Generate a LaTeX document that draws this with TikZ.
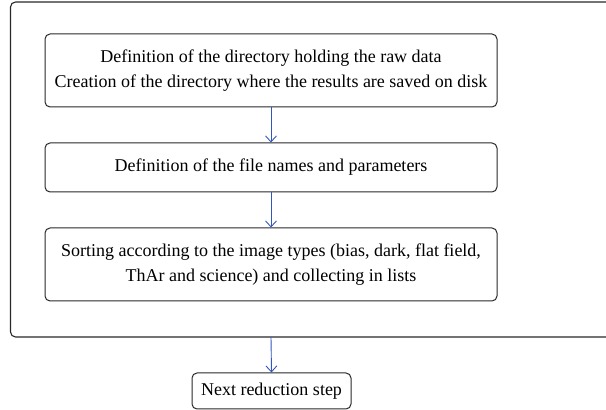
\documentclass[tikz,border=0pt]{standalone}
\usepackage{fontspec}
\setmainfont{Liberation Serif}
\usetikzlibrary{arrows.meta}
\definecolor{arrowblue}{RGB}{50,85,190}
\definecolor{boxgray}{RGB}{40,40,40}
\begin{document}
\begin{tikzpicture}[x=1pt,y=1pt,
  stepbox/.style={draw=boxgray, line width=1pt, rounded corners=5pt, align=center,
    font=\fontsize{18}{25.5}\selectfont, inner sep=0pt},
  flow/.style={draw=arrowblue, line width=0.9pt, -{Straight Barb[length=6pt,width=11pt]}}]
\useasboundingbox (0,0) rectangle (606,410);
\draw[draw=boxgray, line width=1.1pt, rounded corners=5pt] (10.5,73) rectangle (630,408);
\node[stepbox, minimum width=452pt, minimum height=73pt] (b1) at (271,339.5)
  {Definition of the directory holding the raw data\\Creation of the directory where the results are saved on disk};
\node[stepbox, minimum width=452pt, minimum height=49pt] (b2) at (271,242.5)
  {Definition of the file names and parameters};
\node[stepbox, minimum width=452pt, minimum height=73pt] (b3) at (271,145.5)
  {Sorting according to the image types (bias, dark, flat field,\\ThAr and science) and collecting in lists};
\coordinate (outerbot) at (271,73);
\node[stepbox, minimum width=159pt, minimum height=36pt] (next) at (271.5,19)
  {Next reduction step};
\draw[flow] (b1.south) -- (b2.north);
\draw[flow] (b2.south) -- (b3.north);
\draw[flow] (outerbot) -- (next.north);
\end{tikzpicture}
\end{document}
